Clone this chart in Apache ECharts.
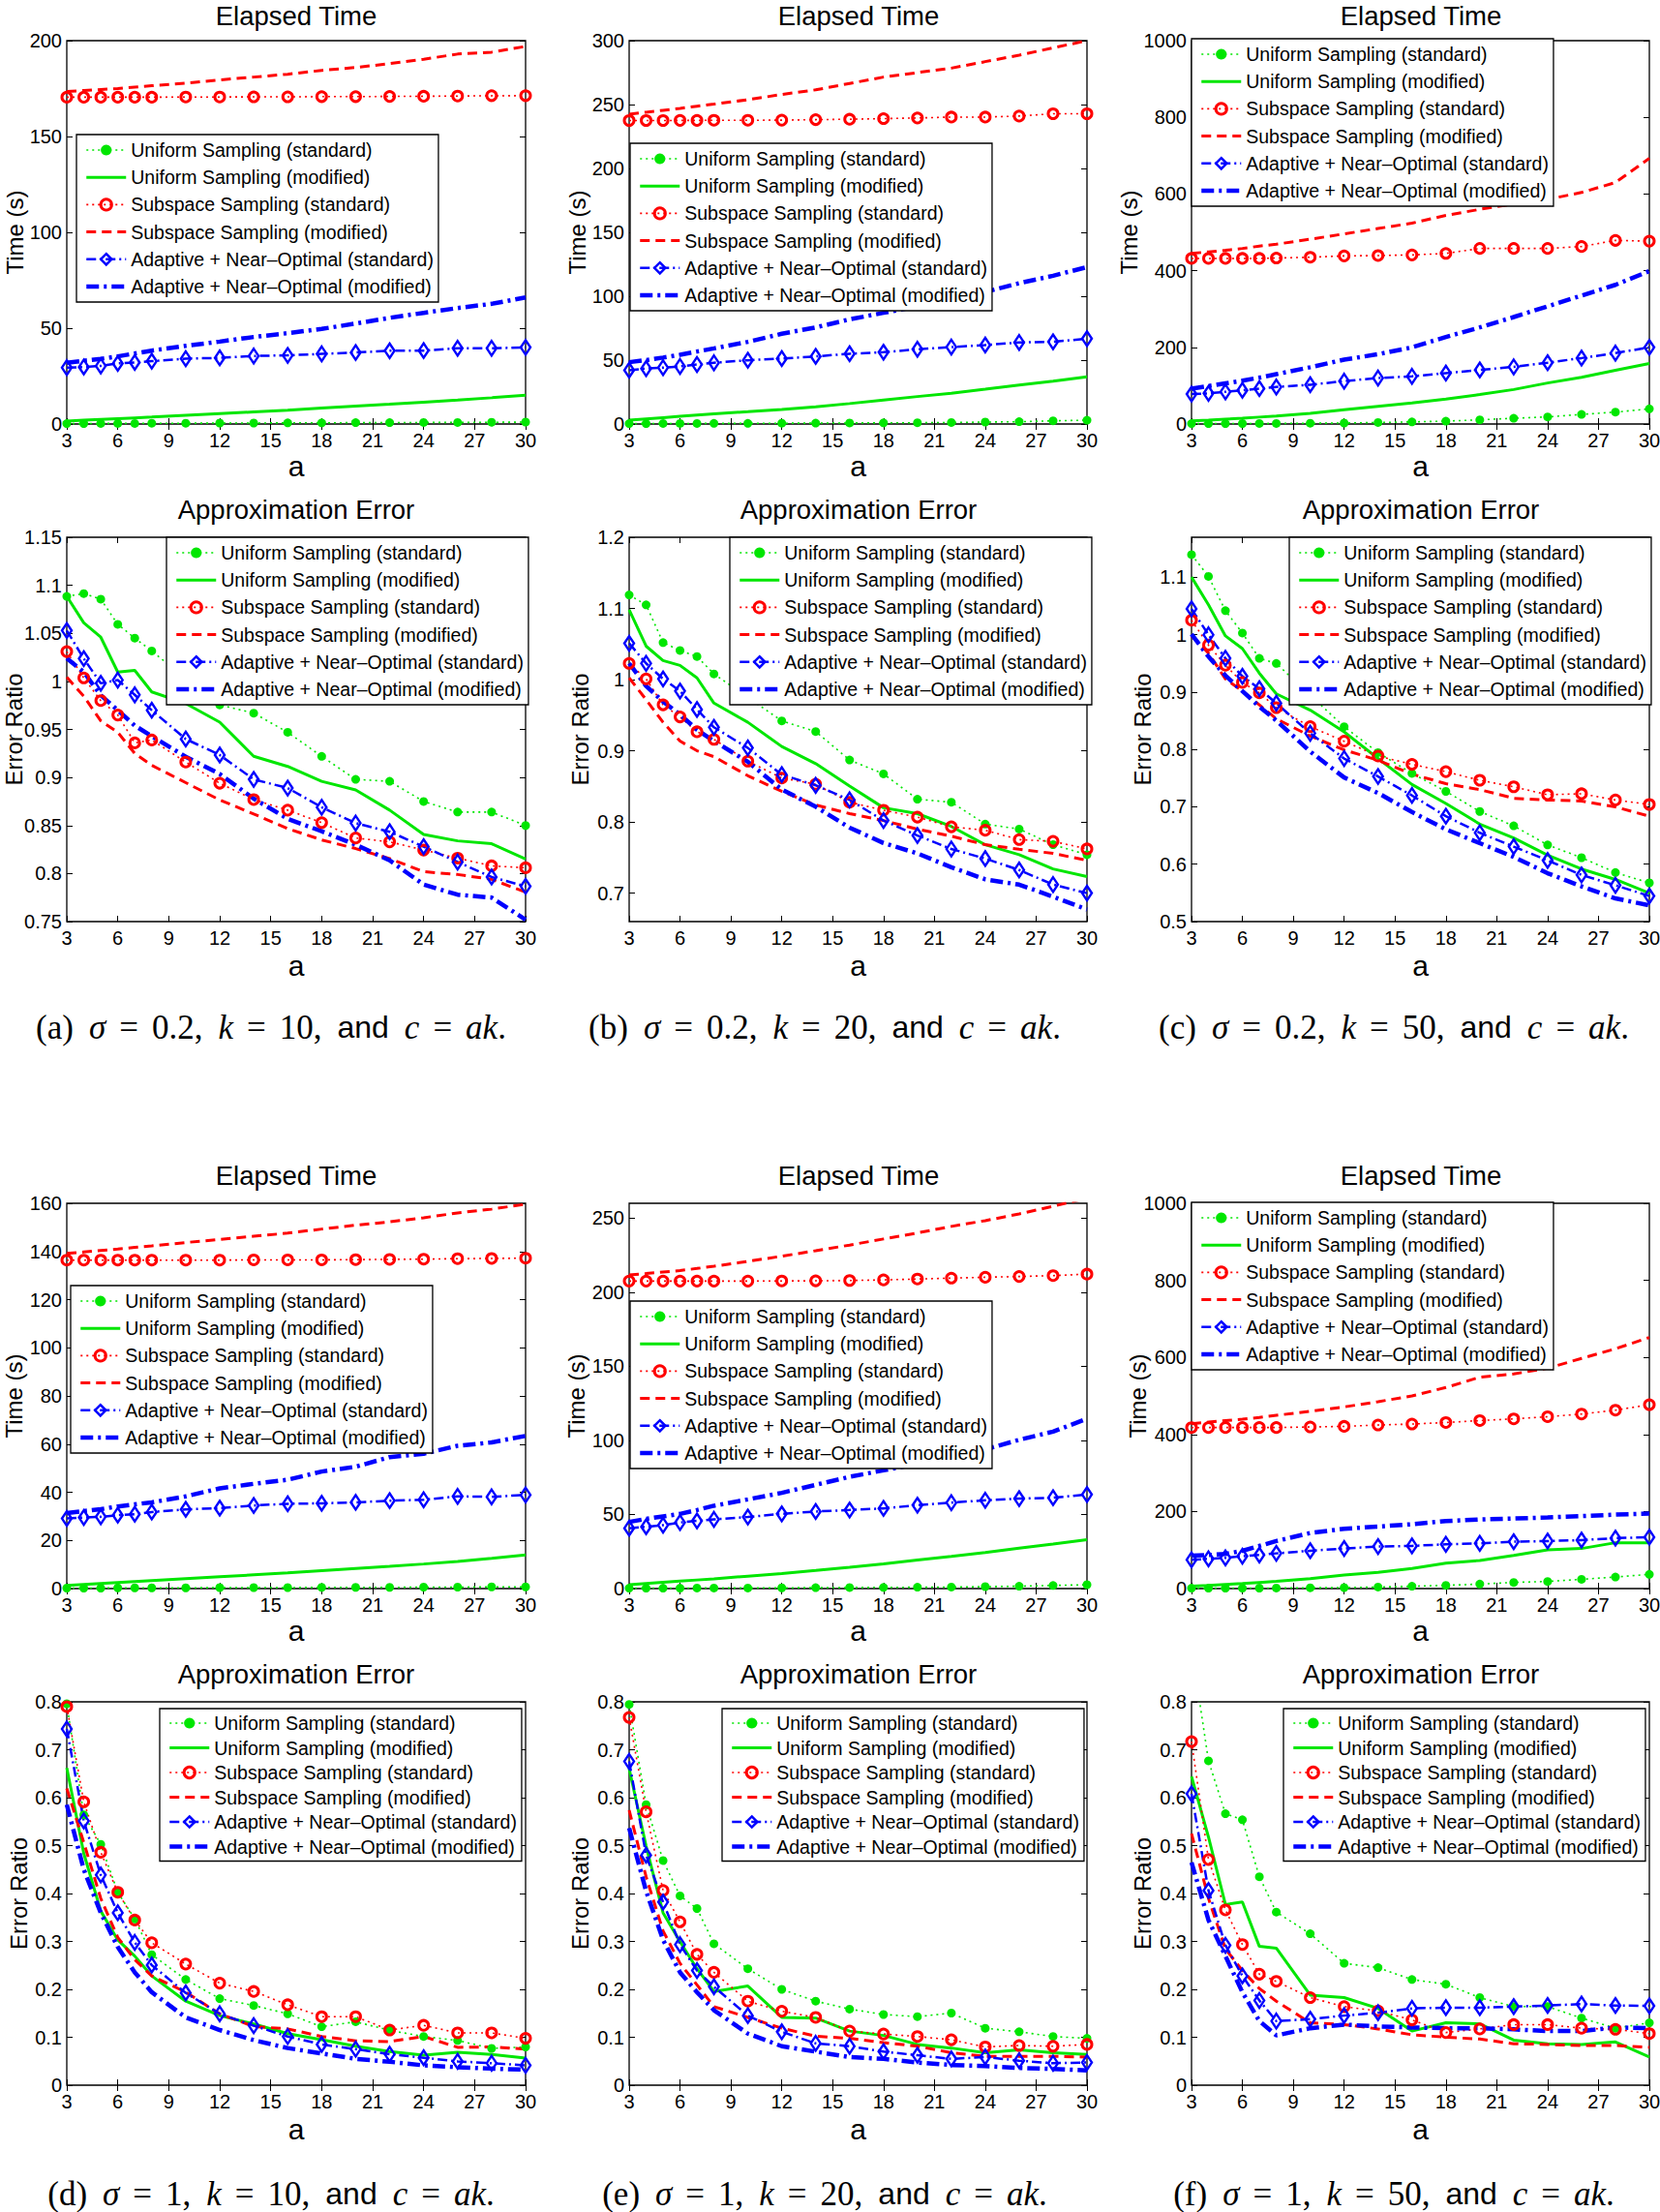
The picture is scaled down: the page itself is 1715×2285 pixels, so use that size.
<!DOCTYPE html>
<html><head><meta charset="utf-8">
<script src="https://cdn.jsdelivr.net/npm/echarts@6/dist/echarts.min.js"></script>
<style>html,body{margin:0;padding:0;background:#fff}#c{width:1715px;height:2285px}</style>
</head><body><div id="c"></div>
<script>
// ---------------- DATA ----------------
const X_VALUES = [3,4,5,6,7,8,10,12,14,16,18,20,22,24,26,28,30];
const X_TICKS = [3,6,9,12,15,18,21,24,27,30];
const SERIES_NAMES = ['Uniform Sampling (standard)','Uniform Sampling (modified)','Subspace Sampling (standard)','Subspace Sampling (modified)','Adaptive + Near\u2013Optimal (standard)','Adaptive + Near\u2013Optimal (modified)'];

const Y_RANGE_TIME_A = [0,200];   const Y_TICKS_TIME_A = [0,50,100,150,200];
const Y_RANGE_TIME_B = [0,300];   const Y_TICKS_TIME_B = [0,50,100,150,200,250,300];
const Y_RANGE_TIME_C = [0,1000];  const Y_TICKS_TIME_C = [0,200,400,600,800,1000];
const Y_RANGE_ERR_A = [0.75,1.15]; const Y_TICKS_ERR_A = [0.75,0.8,0.85,0.9,0.95,1,1.05,1.1,1.15];
const Y_RANGE_ERR_B = [0.66,1.2];  const Y_TICKS_ERR_B = [0.7,0.8,0.9,1,1.1,1.2];
const Y_RANGE_ERR_C = [0.5,1.17];  const Y_TICKS_ERR_C = [0.5,0.6,0.7,0.8,0.9,1,1.1];
const Y_RANGE_TIME_D = [0,160];   const Y_TICKS_TIME_D = [0,20,40,60,80,100,120,140,160];
const Y_RANGE_TIME_E = [0,260];   const Y_TICKS_TIME_E = [0,50,100,150,200,250];
const Y_RANGE_TIME_F = [0,1000];  const Y_TICKS_TIME_F = [0,200,400,600,800,1000];
const Y_RANGE_ERR_DEF = [0,0.8];  const Y_TICKS_ERR_DEF = [0,0.1,0.2,0.3,0.4,0.5,0.6,0.7,0.8];

// (a) time
const tA_us = [0.2,0.2,0.3,0.3,0.3,0.4,0.4,0.5,0.5,0.6,0.6,0.7,0.7,0.8,0.8,0.9,1.0];
const tA_um = [1.5,2.0,2.4,2.8,3.2,3.6,4.5,5.4,6.3,7.2,8.3,9.3,10.3,11.4,12.5,13.7,15.0];
const tA_ss = [170.5,170.5,170.5,170.5,170.5,170.5,170.6,170.6,170.7,170.7,170.8,170.8,170.9,171.0,171.1,171.3,171.3];
const tA_sm = [173.5,174.0,174.5,175.0,175.8,176.5,177.8,179.5,181.0,182.5,184.5,186.0,188.0,190.3,193.0,194.0,197.0];
const tA_as = [29.4,29.7,30.3,31.6,32.1,32.8,34.1,34.5,35.5,35.8,36.6,37.3,38.2,38.3,39.5,39.5,40.0];
const tA_am = [32.0,33.0,34.0,35.3,36.8,38.3,40.8,43.0,45.4,47.4,49.6,52.4,55.4,58.0,60.5,62.7,66.0];
// (b) time
const tB_us = [0.3,0.3,0.4,0.4,0.4,0.5,0.5,0.6,0.7,0.8,0.9,1.0,1.2,1.5,1.8,2.5,3.0];
const tB_um = [3.0,4.0,5.0,6.0,7.0,8.0,9.6,11.3,13.5,16.0,18.8,21.5,24.0,27.2,30.5,33.5,37.0];
const tB_ss = [237.5,237.5,237.5,237.6,237.6,237.7,237.7,237.8,238.2,238.5,239.0,239.5,240.2,240.2,241.0,242.8,242.8];
const tB_sm = [242.5,244.0,245.5,247.0,248.7,250.3,253.8,257.9,261.5,266.5,271.5,275.0,278.5,283.6,288.6,294.4,300.0];
const tB_as = [42.1,43.4,44.1,45.1,46.6,47.9,49.9,51.2,52.9,55.0,56.2,58.5,60.2,61.8,63.8,64.3,66.8];
const tB_am = [48.4,50.0,52.0,54.2,56.7,59.2,64.3,70.6,75.6,81.9,87.0,92.0,97.6,103.4,110.2,116.0,122.8];
// (c) time
const tC_us = [1,1,1.2,1.3,1.4,1.5,2,2.5,4,5.5,7.5,11,15,18.5,25,31,39.5];
const tC_um = [8,10,12.5,15,18,21,28,37,46,55,65,77,90,107,122,140,158];
const tC_ss = [432,432,432,432,432,433,435,438.5,439.5,441,445,458,458,458,463,479,477];
const tC_sm = [445,449,453,458,464,469,482,496,510,524,544,560,574,586,604,630,693];
const tC_as = [78,80,84,88,92.4,96.6,102.5,111.8,120,124.4,132.8,141,149,160,172,185,200];
const tC_am = [92,99,106,113,121,130,148,168,182,200,227,252,279,307,335,363,399];
// (a) error
const eA_us = [1.0885,1.0914,1.0856,1.0594,1.045,1.0317,1.003,0.9755,0.967,0.947,0.922,0.898,0.896,0.875,0.864,0.864,0.850];
const eA_um = [1.0885,1.061,1.046,1.0097,1.0115,0.989,0.977,0.9576,0.922,0.9115,0.896,0.887,0.866,0.8407,0.834,0.831,0.815];
const eA_ss = [1.031,1.0036,0.980,0.965,0.936,0.939,0.916,0.894,0.877,0.866,0.853,0.837,0.833,0.8245,0.816,0.808,0.806];
const eA_sm = [1.0043,0.9845,0.959,0.947,0.925,0.9126,0.8946,0.8766,0.862,0.8468,0.835,0.826,0.8155,0.802,0.799,0.794,0.7806];
const eA_as = [1.0529,1.0237,0.998,1.0014,0.986,0.970,0.940,0.9234,0.898,0.889,0.869,0.8525,0.8435,0.828,0.812,0.7964,0.7867];
const eA_am = [1.024,1.0097,0.9856,0.970,0.954,0.943,0.9216,0.9036,0.878,0.857,0.844,0.830,0.8137,0.7885,0.778,0.775,0.752];
// (b) error
const eB_us = [1.119,1.105,1.052,1.041,1.0325,1.008,0.975,0.942,0.927,0.887,0.8675,0.832,0.8277,0.797,0.790,0.768,0.754];
const eB_um = [1.098,1.047,1.0267,1.020,1.0024,0.967,0.940,0.906,0.882,0.8505,0.820,0.8117,0.7937,0.768,0.754,0.734,0.7233];
const eB_ss = [1.0228,1.001,0.9646,0.9476,0.9267,0.916,0.8854,0.8617,0.853,0.8277,0.8165,0.8068,0.7932,0.7883,0.7752,0.7728,0.7621];
const eB_sm = [1.0024,0.9718,0.940,0.9136,0.900,0.8917,0.865,0.843,0.8238,0.8117,0.802,0.7898,0.780,0.768,0.7617,0.7558,0.746];
const eB_as = [1.051,1.0228,1.001,0.984,0.958,0.933,0.904,0.8665,0.8515,0.831,0.802,0.781,0.762,0.7485,0.7325,0.712,0.700];
const eB_am = [1.0228,0.991,0.969,0.951,0.9296,0.9136,0.8845,0.8456,0.8214,0.792,0.7704,0.7558,0.7364,0.7194,0.712,0.695,0.677];
// (c) error
const eC_us = [1.1398,1.1018,1.042,1.003,0.959,0.950,0.8946,0.8398,0.7946,0.7584,0.727,0.692,0.6669,0.6337,0.6114,0.5855,0.5675];
const eC_um = [1.1006,1.0524,0.998,0.9759,0.933,0.897,0.8687,0.8307,0.7843,0.739,0.706,0.6699,0.6458,0.6157,0.5916,0.5735,0.5494];
const eC_ss = [1.0253,0.982,0.947,0.9169,0.8988,0.8729,0.8398,0.8145,0.7886,0.7741,0.7614,0.7464,0.735,0.7211,0.7229,0.712,0.7042];
const eC_sm = [0.998,0.968,0.923,0.9018,0.8777,0.8536,0.8235,0.7994,0.7813,0.7572,0.7404,0.7301,0.715,0.712,0.7102,0.700,0.6837];
const eC_as = [1.0452,1.0,0.959,0.9277,0.906,0.8807,0.8283,0.7843,0.753,0.7199,0.6837,0.6548,0.6307,0.6066,0.5813,0.5633,0.5446];
const eC_am = [1.0012,0.962,0.929,0.9018,0.8747,0.8506,0.7964,0.7512,0.7241,0.691,0.6608,0.6367,0.6127,0.5843,0.5614,0.5404,0.5283];
// (d) time
const tD_us = [0.2,0.2,0.2,0.3,0.3,0.3,0.3,0.4,0.4,0.4,0.5,0.5,0.5,0.6,0.6,0.7,0.7];
const tD_um = [1.3,1.7,2.1,2.5,2.9,3.3,4.1,4.9,5.7,6.5,7.4,8.3,9.2,10.2,11.3,12.6,14.0];
const tD_ss = [136.4,136.4,136.4,136.4,136.4,136.4,136.4,136.4,136.5,136.5,136.5,136.6,136.7,136.8,137.0,137.1,137.2];
const tD_sm = [139.2,139.8,140.4,141.0,141.7,142.3,143.7,145.0,146.3,147.6,149.3,150.9,152.3,154.0,156.0,157.6,159.6];
const tD_as = [29.1,29.5,29.8,30.5,30.9,31.8,32.9,33.4,34.5,35.2,35.4,35.8,36.5,36.9,38.3,38.1,38.9];
const tD_am = [31.4,32.2,33.0,34.1,35.0,35.8,38.3,41.6,43.5,45.2,48.6,50.6,54.6,56.0,59.3,60.7,63.4];
// (e) time
const tE_us = [0.3,0.3,0.3,0.3,0.4,0.4,0.4,0.5,0.6,0.7,0.8,0.9,1.0,1.3,1.6,2.1,2.6];
const tE_um = [2.6,3.4,4.2,5.0,5.8,6.6,8.4,10.2,12.2,14.4,16.7,19.2,21.7,24.3,27.2,30.0,33.0];
const tE_ss = [207.5,207.5,207.5,207.5,207.5,207.5,207.5,207.6,207.7,207.9,208.3,208.9,209.5,210.1,210.6,211.2,212.2];
const tE_sm = [211.7,212.6,213.6,214.6,216.0,217.5,220.8,224.3,228.0,231.8,235.9,240.0,244.4,248.3,252.8,258.0,263.5];
const tE_as = [40.7,41.7,42.8,44.6,45.7,46.7,48.3,50.4,52.0,53.0,54.1,56.3,58.0,59.6,60.7,61.3,63.5];
const tE_am = [45.0,47.0,48.7,50.4,53.0,55.9,60.2,64.6,70.0,75.4,79.8,84.1,89.6,93.9,100.4,105.9,114.6];
// (f) time
const tF_us = [1,1,1,1.2,1.3,1.5,2,2.5,4,6,8.4,11.7,16,18.5,24,30,37];
const tF_um = [6,8,10.5,13,16,19,26,35,42,52,66,73,86,100.7,104,119,119];
const tF_ss = [417.8,418,418,418,418,418,419.5,421,424.5,427,431,436,440.4,446,453,463,477.3];
const tF_sm = [428,432,436,439.6,444,449.6,460,471.5,485,500,521.8,548.7,557,572,597.3,622.5,651.8];
const tF_as = [74.7,77.2,79.7,84,87.2,91.4,98.2,104,109,110.7,115,117.4,121.6,123.3,125.8,130.9,133.4];
const tF_am = [85.6,87,89.8,98,110.7,123.3,144.3,155.2,161,167,175.3,179.5,182,184.6,188,192,194.6];
// (d) error
const eD_us = [0.796,0.5643,0.5026,0.4026,0.347,0.2724,0.2205,0.1806,0.1663,0.149,0.122,0.1324,0.1144,0.1016,0.0933,0.0768,0.0798];
const eD_um = [0.662,0.4838,0.3634,0.3032,0.2694,0.228,0.1753,0.1452,0.1279,0.1076,0.0948,0.0813,0.07,0.0625,0.0685,0.064,0.0564];
const eD_ss = [0.790,0.5914,0.486,0.4026,0.3446,0.2972,0.2528,0.2129,0.1956,0.1678,0.143,0.143,0.1151,0.1249,0.1091,0.1091,0.0978];
const eD_sm = [0.6193,0.5064,0.3898,0.3085,0.2619,0.228,0.1941,0.149,0.1226,0.1174,0.1016,0.0926,0.091,0.1016,0.079,0.0798,0.0752];
const eD_as = [0.7434,0.5515,0.4387,0.3597,0.298,0.2506,0.1926,0.149,0.1242,0.1016,0.085,0.0752,0.0647,0.0572,0.0497,0.0459,0.0414];
const eD_am = [0.5854,0.45,0.3597,0.2882,0.2355,0.1941,0.1415,0.1151,0.094,0.0775,0.0662,0.0549,0.0489,0.0414,0.0376,0.0346,0.0324];
// (e) error
const eE_us = [0.7946,0.5854,0.4688,0.395,0.3687,0.295,0.243,0.2,0.1753,0.1588,0.1475,0.143,0.1505,0.1189,0.1114,0.1016,0.0978];
const eE_um = [0.6606,0.4989,0.3597,0.2995,0.243,0.1956,0.2069,0.1415,0.14,0.1129,0.1038,0.085,0.0775,0.0677,0.0737,0.0677,0.064];
const eE_ss = [0.7675,0.5704,0.4063,0.3409,0.2731,0.2355,0.1753,0.1543,0.1415,0.1129,0.1068,0.1016,0.0948,0.0798,0.0828,0.0813,0.085];
const eE_sm = [0.5741,0.4349,0.322,0.2543,0.2092,0.164,0.1415,0.1189,0.1023,0.0978,0.0888,0.0813,0.0677,0.0602,0.0602,0.0602,0.0587];
const eE_as = [0.6757,0.48,0.3822,0.2935,0.2393,0.2054,0.1452,0.1114,0.0873,0.0813,0.07,0.0625,0.0549,0.0587,0.0512,0.0459,0.0474];
const eE_am = [0.5365,0.4048,0.3032,0.2355,0.1941,0.1565,0.1076,0.0813,0.07,0.0587,0.0549,0.0474,0.0421,0.0399,0.0361,0.0339,0.0309];
// (f) error
const eF_us = [0.913,0.677,0.5666,0.5538,0.4349,0.3612,0.316,0.2543,0.2453,0.2205,0.2107,0.1828,0.164,0.164,0.14,0.1189,0.1302];
const eF_um = [0.6441,0.5177,0.377,0.3822,0.2897,0.2859,0.1881,0.1828,0.1603,0.1129,0.1302,0.1279,0.094,0.0865,0.085,0.0903,0.0587];
const eF_ss = [0.7171,0.471,0.3657,0.2935,0.2317,0.2167,0.1828,0.164,0.155,0.1362,0.1099,0.1174,0.1264,0.1264,0.1189,0.1166,0.1076];
const eF_sm = [0.5252,0.3898,0.2844,0.2393,0.2017,0.1753,0.1302,0.1264,0.1174,0.1053,0.1001,0.0963,0.0865,0.085,0.0828,0.0828,0.079];
const eF_as = [0.608,0.4063,0.292,0.228,0.1768,0.1339,0.1377,0.1452,0.1512,0.1603,0.1618,0.1618,0.164,0.1663,0.1693,0.1663,0.1655];
const eF_am = [0.465,0.3446,0.2694,0.1941,0.1339,0.1038,0.1189,0.1264,0.1226,0.1204,0.1189,0.1189,0.1166,0.1129,0.1129,0.1204,0.1189];

const CAPTION_LETTERS = ['a','b','c','d','e','f'];
const CAPTION_SIGMAS = ['0.2','0.2','0.2','1','1','1'];
const CAPTION_KS = ['10','20','50','10','20','50'];

// ---------------- LAYOUT / STYLE ----------------
const FONT = '"Liberation Sans", Arial, Helvetica, sans-serif';
const SERIF = '"Liberation Serif", "Times New Roman", serif';
const GREEN = '#00e600', RED = '#ff0000', BLUE = '#0000ff';
const STYLES = [
  {color:GREEN, dash:[2,4], width:1.6, symbol:'circle', size:9, fill:GREEN, border:0},
  {color:GREEN, dash:'solid', width:3, symbol:'none'},
  {color:RED, dash:[2,4], width:1.6, symbol:'circle', size:10, fill:'rgba(255,255,255,0)', border:3},
  {color:RED, dash:[10,6], width:3, symbol:'none'},
  {color:BLUE, dash:[10,4,2,4], width:2.5, symbol:'diamond', size:[10,15], fill:'rgba(255,255,255,0)', border:2.5},
  {color:BLUE, dash:[13,5,3,5], width:4.5, symbol:'none'}
];
const COLS = [{left:69,width:474,cx:306,capX:280},{left:650,width:473,cx:887,capX:852},{left:1231,width:473,cx:1468,capX:1440}];
const ROWS = [{top:42,height:396,titleY:16,xGap:28},{top:555,height:397,titleY:526,xGap:30},{top:1243,height:398,titleY:1214,xGap:28},{top:1758,height:396,titleY:1729,xGap:30}];
const CAPTION_Y = [1061, 2266];

const panels = [
  {row:0,col:0,title:'Elapsed Time',yName:'Time (s)',range:Y_RANGE_TIME_A,ticks:Y_TICKS_TIME_A,interval:50,nameGap:42,lg:{left:79,top:139,gap:6.2,pad:5},data:[tA_us,tA_um,tA_ss,tA_sm,tA_as,tA_am]},
  {row:0,col:1,title:'Elapsed Time',yName:'Time (s)',range:Y_RANGE_TIME_B,ticks:Y_TICKS_TIME_B,interval:50,nameGap:42,lg:{left:651,top:148,gap:6.2,pad:5},data:[tB_us,tB_um,tB_ss,tB_sm,tB_as,tB_am]},
  {row:0,col:2,title:'Elapsed Time',yName:'Time (s)',range:Y_RANGE_TIME_C,ticks:Y_TICKS_TIME_C,interval:200,nameGap:53,lg:{left:1231,top:40,gap:6.2,pad:5},data:[tC_us,tC_um,tC_ss,tC_sm,tC_as,tC_am]},
  {row:1,col:0,title:'Approximation Error',yName:'Error Ratio',range:Y_RANGE_ERR_A,ticks:Y_TICKS_ERR_A,interval:0.05,nameGap:43,lg:{left:172,top:555,gap:6.2,pad:5},data:[eA_us,eA_um,eA_ss,eA_sm,eA_as,eA_am]},
  {row:1,col:1,title:'Approximation Error',yName:'Error Ratio',range:Y_RANGE_ERR_B,ticks:Y_TICKS_ERR_B,interval:null,nameGap:39,lg:{left:754,top:555,gap:6.2,pad:5},data:[eB_us,eB_um,eB_ss,eB_sm,eB_as,eB_am]},
  {row:1,col:2,title:'Approximation Error',yName:'Error Ratio',range:Y_RANGE_ERR_C,ticks:Y_TICKS_ERR_C,interval:0.1,nameGap:39,lg:{left:1332,top:555,gap:6.2,pad:5},data:[eC_us,eC_um,eC_ss,eC_sm,eC_as,eC_am]},
  {row:2,col:0,title:'Elapsed Time',yName:'Time (s)',range:Y_RANGE_TIME_D,ticks:Y_TICKS_TIME_D,interval:20,nameGap:43,lg:{left:73,top:1328,gap:6.2,pad:5},data:[tD_us,tD_um,tD_ss,tD_sm,tD_as,tD_am]},
  {row:2,col:1,title:'Elapsed Time',yName:'Time (s)',range:Y_RANGE_TIME_E,ticks:Y_TICKS_TIME_E,interval:50,nameGap:43,lg:{left:651,top:1344,gap:6.2,pad:5},data:[tE_us,tE_um,tE_ss,tE_sm,tE_as,tE_am]},
  {row:2,col:2,title:'Elapsed Time',yName:'Time (s)',range:Y_RANGE_TIME_F,ticks:Y_TICKS_TIME_F,interval:200,nameGap:44,lg:{left:1231,top:1242,gap:6.2,pad:5},data:[tF_us,tF_um,tF_ss,tF_sm,tF_as,tF_am]},
  {row:3,col:0,title:'Approximation Error',yName:'Error Ratio',range:Y_RANGE_ERR_DEF,ticks:Y_TICKS_ERR_DEF,interval:0.1,nameGap:38,lg:{left:165,top:1765,gap:3.5,pad:4},data:[eD_us,eD_um,eD_ss,eD_sm,eD_as,eD_am]},
  {row:3,col:1,title:'Approximation Error',yName:'Error Ratio',range:Y_RANGE_ERR_DEF,ticks:Y_TICKS_ERR_DEF,interval:0.1,nameGap:39,lg:{left:746,top:1765,gap:3.5,pad:4},data:[eE_us,eE_um,eE_ss,eE_sm,eE_as,eE_am]},
  {row:3,col:2,title:'Approximation Error',yName:'Error Ratio',range:Y_RANGE_ERR_DEF,ticks:Y_TICKS_ERR_DEF,interval:0.1,nameGap:39,lg:{left:1326,top:1765,gap:3.5,pad:4},data:[eF_us,eF_um,eF_ss,eF_sm,eF_as,eF_am]}
];

const fmt = v => String(Math.round(v * 10000) / 10000);
const grid = [], xBottom = [], xTop = [], yLeft = [], yRight = [], series = [], legend = [], graphic = [];
const tickStyle = {show:true, inside:true, length:6, lineStyle:{color:'#000', width:1}};
const legendData = SERIES_NAMES.map((n, k) => STYLES[k].symbol === 'none' ? {name:n, itemStyle:{opacity:0}} : {name:n});

panels.forEach((p, i) => {
  const C = COLS[p.col], R = ROWS[p.row];
  grid.push({left:C.left, top:R.top, width:C.width, height:R.height, show:true, borderColor:'#000', borderWidth:1.3,
    backgroundColor:'#fff', containLabel:false, outerBoundsMode:'none'});
  const xBase = {gridIndex:i, type:'value', min:3, max:30, interval:3, splitLine:{show:false}, axisLine:{show:false}};
  xBottom.push(Object.assign({}, xBase, {position:'bottom', name:'a', nameLocation:'middle', nameGap:R.xGap, nameMoveOverlap:false,
    nameTextStyle:{fontSize:30, color:'#000', fontFamily:FONT},
    axisTick:Object.assign({customValues:X_TICKS}, tickStyle),
    axisLabel:{show:true, margin:7, fontSize:20, color:'#000', fontFamily:FONT, customValues:X_TICKS, formatter:fmt}}));
  xTop.push(Object.assign({}, xBase, {position:'top', axisTick:Object.assign({customValues:X_TICKS}, tickStyle), axisLabel:{show:false}}));
  const yBase = {gridIndex:i, type:'value', min:p.range[0], max:p.range[1], splitLine:{show:false}, axisLine:{show:false}};
  if (p.interval) yBase.interval = p.interval;
  yLeft.push(Object.assign({}, yBase, {position:'left', name:p.yName, nameLocation:'middle', nameGap:p.nameGap, nameMoveOverlap:false,
    nameTextStyle:{fontSize:24, color:'#000', fontFamily:FONT},
    axisTick:Object.assign({customValues:p.ticks}, tickStyle),
    axisLabel:{show:true, margin:5, fontSize:20, color:'#000', fontFamily:FONT, customValues:p.ticks, formatter:fmt}}));
  yRight.push(Object.assign({}, yBase, {position:'right', axisTick:Object.assign({customValues:p.ticks}, tickStyle), axisLabel:{show:false}}));

  p.data.forEach((vals, k) => {
    const st = STYLES[k];
    series.push({
      type:'line', name:SERIES_NAMES[k], xAxisIndex:i, yAxisIndex:i,
      data:X_VALUES.map((x, j) => [x, vals[j]]),
      symbol:st.symbol, symbolSize:st.size || 0, showSymbol:st.symbol !== 'none', showAllSymbol:true,
      lineStyle:{color:st.color, width:st.width, type:st.dash, cap:'butt'},
      itemStyle:{color:st.fill || st.color, borderColor:st.color, borderWidth:st.border || 0},
      animation:false, silent:true, clip:true, emphasis:{disabled:true}
    });
  });

  legend.push({data:legendData, orient:'vertical', left:p.lg.left, top:p.lg.top, itemWidth:41, itemHeight:14, itemGap:p.lg.gap,
    padding:[p.lg.pad,5,p.lg.pad,8], borderColor:'#000', borderWidth:1.3, backgroundColor:'#fff', borderRadius:0,
    selectedMode:false, textStyle:{fontSize:19.5, color:'#000', fontFamily:FONT, lineHeight:22},
    lineStyle:{width:'inherit'}, itemStyle:{borderWidth:'inherit'}, z:10});

  graphic.push({type:'text', x:C.cx, y:R.titleY, silent:true,
    style:{text:p.title, fontSize:27.5, fontFamily:FONT, fill:'#000', align:'center', verticalAlign:'middle'}});
});

const rich = {
  r:{fontFamily:SERIF, fontSize:35, fill:'#000', color:'#000'},
  i:{fontFamily:SERIF, fontSize:35, fontStyle:'italic', fill:'#000', color:'#000'},
  s:{fontFamily:FONT, fontSize:32, fill:'#000', color:'#000'},
  w:{fontSize:34, width:16},
  e:{fontSize:34, width:14}
};
CAPTION_LETTERS.forEach((L, q) => {
  const text = '{r|(' + L + ')}{w| }{i|\u03c3}{e| }{r|=}{e| }{r|' + CAPTION_SIGMAS[q] + ',}{w| }{i|k}{e| }{r|=}{e| }{r|' + CAPTION_KS[q] +
    ',}{w| }{s|and}{w| }{i|c}{e| }{r|=}{e| }{i|ak}{r|.}';
  graphic.push({type:'text', x:COLS[q % 3].capX, y:CAPTION_Y[Math.floor(q / 3)], silent:true,
    style:{text:text, rich:rich, fill:'#000', align:'center', verticalAlign:'middle'}});
});

const chart = echarts.init(document.getElementById('c'), null, {renderer:'svg', width:1715, height:2285});
chart.setOption({
  animation:false, backgroundColor:'#fff',
  grid:grid, xAxis:xBottom.concat(xTop), yAxis:yLeft.concat(yRight),
  series:series, legend:legend, graphic:graphic
});
</script></body></html>
